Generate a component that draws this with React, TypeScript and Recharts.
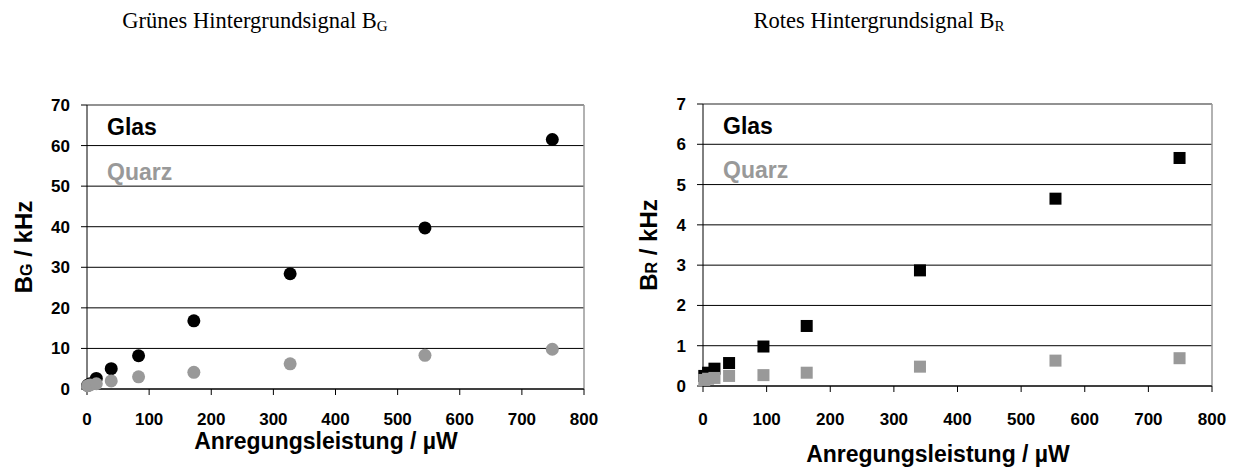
import React from 'react';
import { ScatterChart, Scatter, XAxis, YAxis, CartesianGrid, ReferenceLine } from 'recharts';

// Grünes Hintergrundsignal (kHz) vs. Anregungsleistung (µW)
const powerGreen = [1, 5, 15, 39, 83, 172, 327, 544, 749];
const glasGreen = [0.9, 1.3, 2.6, 5.0, 8.2, 16.8, 28.4, 39.7, 61.5];
const quarzGreen = [0.8, 1.0, 1.3, 2.0, 3.0, 4.1, 6.2, 8.3, 9.8];

// Rotes Hintergrundsignal (kHz)
const powerRed = [2, 8, 18, 41, 95, 163, 341, 554, 749];
const glasRed = [0.25, 0.33, 0.43, 0.57, 0.98, 1.49, 2.87, 4.65, 5.66];
const quarzRed = [0.15, 0.18, 0.2, 0.25, 0.27, 0.33, 0.48, 0.63, 0.69];

const xTicks = [0, 100, 200, 300, 400, 500, 600, 700, 800];
const greenTicks = [0, 10, 20, 30, 40, 50, 60, 70];
const redTicks = [0, 1, 2, 3, 4, 5, 6, 7];

const GREY = '#999999';
const SANS = '"Liberation Sans", Arial, sans-serif';
const SERIF = '"Liberation Serif", "Times New Roman", serif';

const toPoints = (xs: number[], ys: number[]) => xs.map((x, i) => ({ x, y: ys[i] }));

const circle = (fill: string) => (p: any) => <circle cx={p.cx} cy={p.cy} r={6.5} fill={fill} />;
const square = (fill: string) => (p: any) => (
  <rect x={p.cx - 6} y={p.cy - 6} width={12} height={12} fill={fill} />
);

// bold tick labels
const XTick = ({ x, y, payload }: any) => (
  <text x={x} y={y} dy="0.71em" textAnchor="middle" fontFamily={SANS} fontWeight="bold" fontSize={17} fill="#000">
    {payload.value}
  </text>
);
const YTick = ({ x, y, payload }: any) => (
  <text x={x} y={y} dy="0.355em" textAnchor="end" fontFamily={SANS} fontWeight="bold" fontSize={17} fill="#000">
    {payload.value}
  </text>
);

function YTitle({ viewBox, sub, posX }: any) {
  const cy = viewBox.y + viewBox.height / 2;
  return (
    <text
      transform={`translate(${posX},${cy}) rotate(-90)`}
      textAnchor="middle"
      dominantBaseline="central"
      fontFamily={SANS}
      fontWeight="bold"
      fontSize={24}
      fill="#000"
    >
      B<tspan fontSize={16} dy={3}>{sub}</tspan>
      <tspan dy={-3}> / kHz</tspan>
    </text>
  );
}

function XTitle({ posX, posY }: any) {
  return (
    <text x={posX} y={posY} textAnchor="middle" fontFamily={SANS} fontWeight="bold" fontSize={23} fill="#000">
      Anregungsleistung / µW
    </text>
  );
}

interface PanelProps {
  left: number;
  width: number;
  title: string;
  sub: string;
  power: number[];
  glas: number[];
  quarz: number[];
  yTicks: number[];
  marker: 'circle' | 'square';
  plotLeft: number;
  plotRight: number;
  plotTop: number;
  plotBottom: number;
  tickGap: number;
  xTitleX: number;
  xTitleY: number;
  yTitleX: number;
  titleX: number;
  textX: number;
  glasY: number;
  quarzY: number;
}

function Panel(p: PanelProps) {
  const height = 471;
  const yMax = p.yTicks[p.yTicks.length - 1];
  const shape = p.marker === 'circle' ? circle : square;
  const insideText = {
    position: 'absolute' as const,
    left: p.textX,
    fontFamily: SANS,
    fontWeight: 'bold' as const,
    fontSize: 23,
    lineHeight: '26px',
  };
  return (
    <div style={{ position: 'absolute', left: p.left, top: 0, width: p.width, height }}>
      <ScatterChart
        width={p.width}
        height={height}
        margin={{ top: p.plotTop, right: p.width - p.plotRight, left: 0, bottom: 0 }}
      >
        <CartesianGrid vertical={false} stroke="#000" strokeWidth={1} />
        <XAxis
          type="number"
          dataKey="x"
          domain={[0, 800]}
          ticks={xTicks}
          interval={0}
          height={height - p.plotBottom}
          tickSize={6}
          tickMargin={p.tickGap}
          axisLine={{ stroke: '#000' }}
          tickLine={{ stroke: '#000' }}
          tick={<XTick />}
          label={<XTitle posX={p.xTitleX} posY={p.xTitleY} />}
        />
        <YAxis
          type="number"
          dataKey="y"
          domain={[0, yMax]}
          ticks={p.yTicks}
          interval={0}
          width={p.plotLeft}
          tickSize={6}
          tickMargin={11}
          axisLine={{ stroke: '#000' }}
          tickLine={{ stroke: '#000' }}
          tick={<YTick />}
          label={<YTitle sub={p.sub} posX={p.yTitleX} />}
        />
        <ReferenceLine y={yMax} stroke={GREY} strokeWidth={1.5} />
        <ReferenceLine x={800} stroke={GREY} strokeWidth={1.5} />
        <Scatter
          name="Glas"
          data={toPoints(p.power, p.glas)}
          fill="#000"
          shape={shape('#000')}
          isAnimationActive={false}
        />
        <Scatter
          name="Quarz"
          data={toPoints(p.power, p.quarz)}
          fill={GREY}
          shape={shape(GREY)}
          isAnimationActive={false}
        />
      </ScatterChart>
      <div
        style={{
          position: 'absolute',
          left: p.titleX - 250,
          width: 500,
          top: 8,
          textAlign: 'center',
          fontFamily: SERIF,
          fontSize: 22.5,
          lineHeight: '26px',
          color: '#000',
          whiteSpace: 'nowrap',
        }}
      >
        {p.title} B<span style={{ fontSize: 15, verticalAlign: '-3px' }}>{p.sub}</span>
      </div>
      <div style={{ ...insideText, top: p.glasY, color: '#000' }}>Glas</div>
      <div style={{ ...insideText, top: p.quarzY, color: GREY }}>Quarz</div>
    </div>
  );
}

export default function App() {
  return (
    <div style={{ position: 'absolute', left: 0, top: 0, width: 1238, height: 471, background: '#fff' }}>
      <Panel
        left={0}
        width={620}
        title="Grünes Hintergrundsignal"
        sub="G"
        power={powerGreen}
        glas={glasGreen}
        quarz={quarzGreen}
        yTicks={greenTicks}
        marker="circle"
        plotLeft={87}
        plotRight={584}
        plotTop={105}
        plotBottom={389}
        tickGap={18}
        xTitleX={326}
        xTitleY={449}
        yTitleX={23}
        titleX={255}
        textX={107}
        glasY={114}
        quarzY={159}
      />
      <Panel
        left={620}
        width={618}
        title="Rotes Hintergrundsignal"
        sub="R"
        power={powerRed}
        glas={glasRed}
        quarz={quarzRed}
        yTicks={redTicks}
        marker="square"
        plotLeft={83}
        plotRight={592}
        plotTop={104}
        plotBottom={386}
        tickGap={21}
        xTitleX={318}
        xTitleY={462}
        yTitleX={28}
        titleX={259}
        textX={103}
        glasY={113}
        quarzY={157}
      />
    </div>
  );
}
